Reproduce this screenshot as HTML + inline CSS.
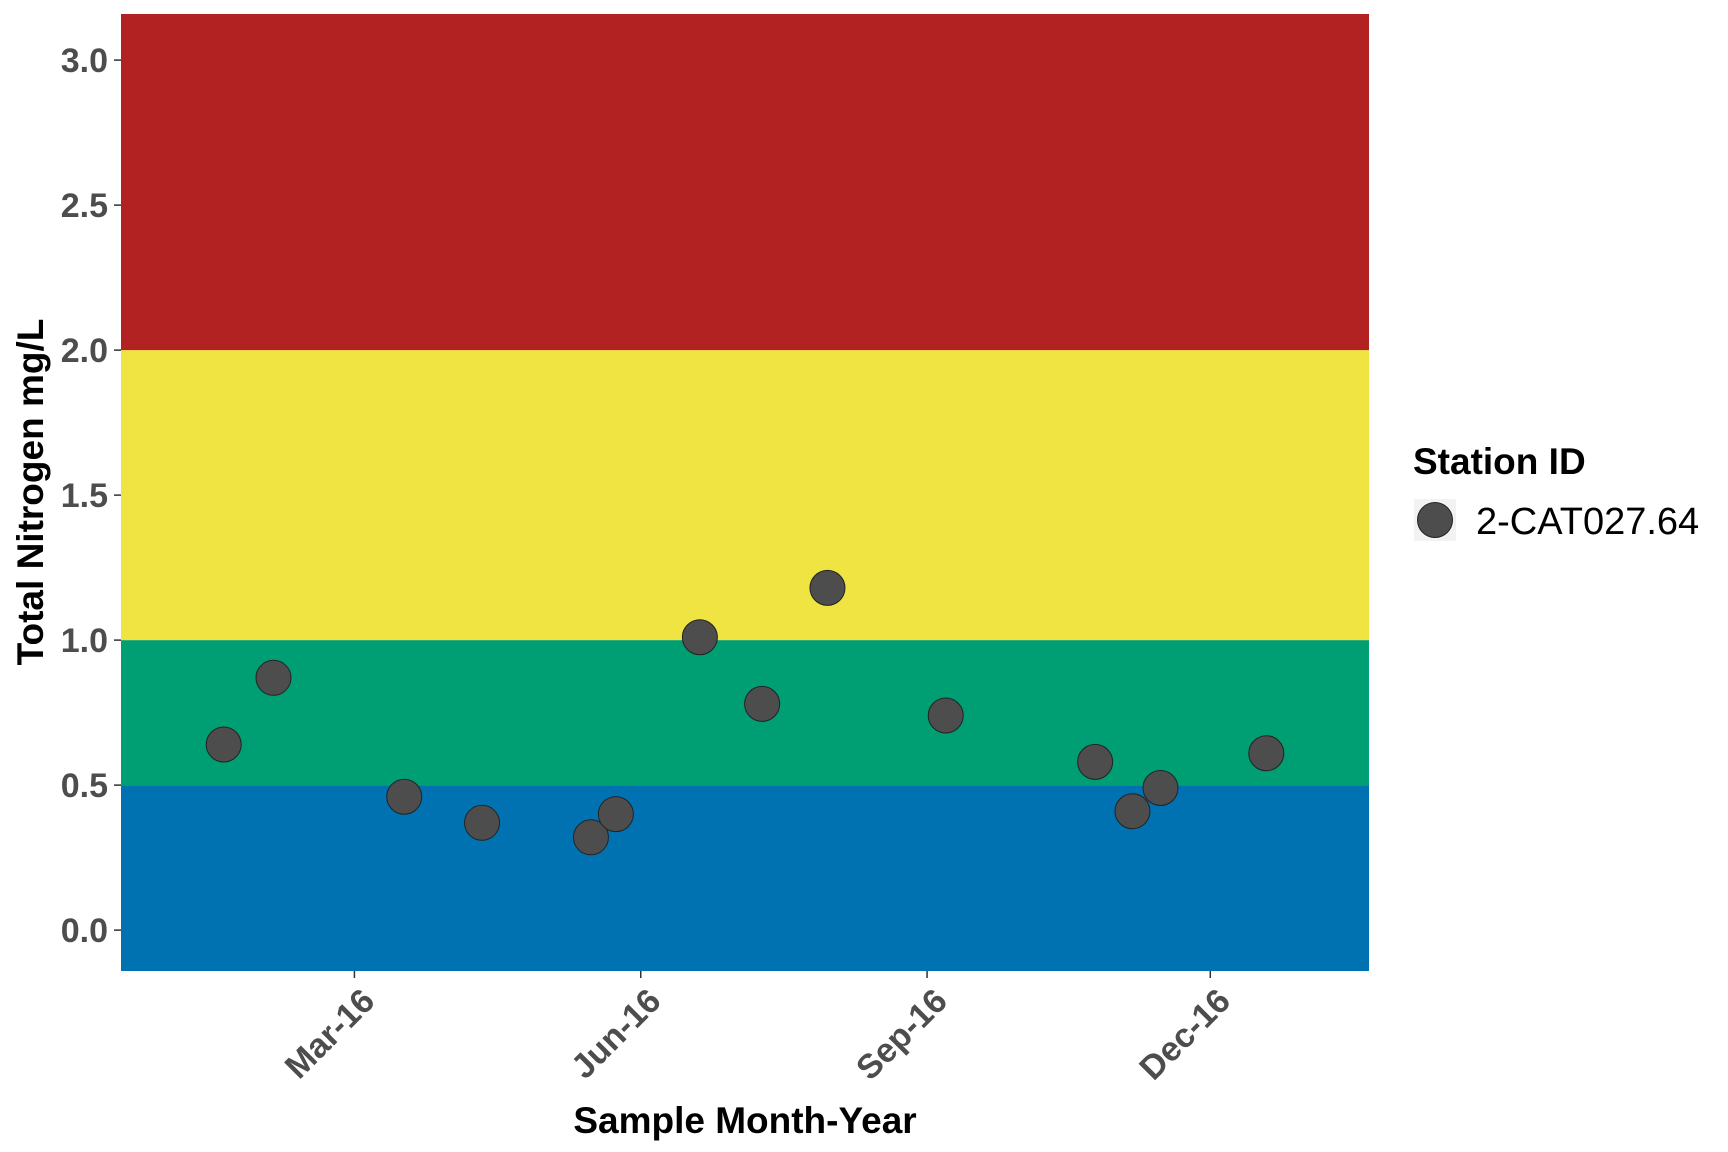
<!DOCTYPE html>
<html><head><meta charset="utf-8"><style>
html,body{margin:0;padding:0;background:#fff;}
svg{display:block;font-family:"Liberation Sans",Arial,sans-serif;}
</style></head><body>
<svg id="chart" width="1728" height="1152" viewBox="0 0 1728 1152" xmlns="http://www.w3.org/2000/svg">
<g id="bands"></g><g id="axes"></g><g id="points"></g>
<text transform="translate(43,492) rotate(-90)" text-anchor="middle" font-size="37" font-weight="bold" fill="#000">Total Nitrogen mg/L</text>
<text x="745" y="1133" text-anchor="middle" font-size="37" font-weight="bold" fill="#000">Sample Month-Year</text>
<g>
<text x="1413" y="474" font-size="37" font-weight="bold" fill="#000">Station ID</text>
<rect x="1414" y="499" width="42" height="42" fill="#f2f2f2"/>
<circle cx="1435" cy="520" r="17.5" fill="#4d4d4d" stroke="#222" stroke-width="1"/>
<text x="1476" y="534" font-size="38" fill="#000">2-CAT027.64</text>
</g>
</svg>
<script>
const bandLimits=[-0.141,0.5,1.0,2.0,3.159];
const bandColors=["#0072b2","#009e73","#f0e442","#b22222"];
const yTicks=[0,0.5,1.0,1.5,2.0,2.5,3.0];
const yTickLabels=["0.0","0.5","1.0","1.5","2.0","2.5","3.0"];
const xTickDates=["2016-03-01","2016-06-01","2016-09-01","2016-12-01"];
const xTickLabels=["Mar-16","Jun-16","Sep-16","Dec-16"];
const sampleDates=["2016-01-19","2016-02-04","2016-03-17","2016-04-11","2016-05-16","2016-05-24","2016-06-20","2016-07-10","2016-07-31","2016-09-07","2016-10-25","2016-11-06","2016-11-15","2016-12-19"];
const nitrogen=[0.64,0.87,0.46,0.37,0.32,0.40,1.01,0.78,1.18,0.74,0.58,0.41,0.49,0.61];

const NS="http://www.w3.org/2000/svg";
const L=121,R=1369,T=14,B=971;
const yMin=-0.141,yMax=3.159;
const d0=Date.UTC(2015,11,17),d1=Date.UTC(2017,0,21);
function dayOf(s){const p=s.split('-');return Date.UTC(+p[0],+p[1]-1,+p[2]);}
function xs(s){return L+(dayOf(s)-d0)/(d1-d0)*(R-L);}
function ys(v){return B-(v-yMin)/(yMax-yMin)*(B-T);}
function mk(tag,attrs,parent){const e=document.createElementNS(NS,tag);for(const k in attrs)e.setAttribute(k,attrs[k]);parent.appendChild(e);return e;}
const bands=document.getElementById('bands'),axes=document.getElementById('axes'),pts=document.getElementById('points');
for(let i=0;i<bandColors.length;i++){
  const y1=ys(Math.min(bandLimits[i+1],yMax)),y0=ys(Math.max(bandLimits[i],yMin));
  const r=mk('rect',{x:L,y:y1,width:R-L,height:y0-y1,fill:bandColors[i]},bands);
  
  
}
yTicks.forEach((v,i)=>{
  const y=ys(v);
  const t=mk('line',{x1:L-7,x2:L,y1:y,y2:y,stroke:'#333','stroke-width':1.5},axes);
  
  
  const tx=mk('text',{x:L-13,y:y+12,'text-anchor':'end','font-size':34,'font-weight':'bold',fill:'#4d4d4d'},axes);
  tx.textContent=yTickLabels[i];
  
  
});
xTickDates.forEach((d,i)=>{
  const x=xs(d);
  const t=mk('line',{x1:x,x2:x,y1:B,y2:B+7,stroke:'#333','stroke-width':1.5},axes);
  
  
  const tx=mk('text',{transform:'translate('+(x+4)+','+(B+14)+') rotate(-45)','text-anchor':'end','font-size':34,'font-weight':'bold',fill:'#4d4d4d',dy:'0.75em'},axes);
  tx.textContent=xTickLabels[i];
  
  
});
sampleDates.forEach((d,i)=>{
  const c=mk('circle',{cx:xs(d),cy:ys(nitrogen[i]),r:17.5,fill:'#4d4d4d',stroke:'#222','stroke-width':1},pts);
  
  
});
</script>
</body></html>
